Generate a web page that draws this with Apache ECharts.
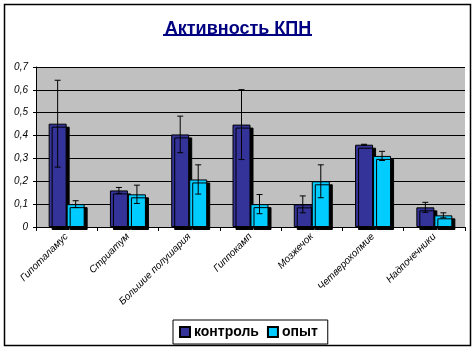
<!DOCTYPE html>
<html>
<head>
<meta charset="utf-8">
<script src="https://cdn.jsdelivr.net/npm/echarts@6/dist/echarts.min.js"></script>
<style>
	html, body { margin: 0; padding: 0; background: #fff; }
	#chart { width: 476px; height: 352px; }
</style>
</head>
<body>
<div id="chart"></div>
<script>
	var categories = ['Гипоталамус', 'Стриатум', 'Большие полушария', 'Гиппокамп', 'Мозжечок', 'Четверохолмие', 'Надпочечники'];
	var control = [0.452, 0.160, 0.405, 0.448, 0.099, 0.360, 0.086];
	var controlErr = [0.190, 0.013, 0.080, 0.153, 0.037, 0.002, 0.022];
	var opyt = [0.100, 0.143, 0.208, 0.100, 0.200, 0.311, 0.051];
	var opytErr = [0.015, 0.040, 0.064, 0.042, 0.072, 0.020, 0.011];
	var yTicks = [0, 0.1, 0.2, 0.3, 0.4, 0.5, 0.6, 0.7];

	var font = 'Arial, "Liberation Sans", sans-serif';

	//误差线数据 [类目, 上限, 下限]
	function errData(vals, errs) {
		var out = [];
		for(var i = 0; i < vals.length; i++) {
			out.push([i, vals[i] + errs[i], vals[i] - errs[i]]);
		}
		return out;
	}

	function errSeries(vals, errs, shift) {
		return {
			type: 'custom',
			z: 10,
			silent: true,
			data: errData(vals, errs),
			renderItem: function(params, api) {
				var hi = api.coord([api.value(0), api.value(1)]);
				var lo = api.coord([api.value(0), api.value(2)]);
				var x = hi[0] + shift;
				var cap = 3;
				var st = { stroke: '#000', lineWidth: 1 };
				return {
					type: 'group',
					children: [
						{ type: 'line', shape: { x1: x, y1: hi[1], x2: x, y2: lo[1] }, style: st },
						{ type: 'line', shape: { x1: x - cap, y1: hi[1], x2: x + cap, y2: hi[1] }, style: st },
						{ type: 'line', shape: { x1: x - cap, y1: lo[1], x2: x + cap, y2: lo[1] }, style: st }
					]
				};
			}
		};
	}

	var barStyle = function(color) {
		return {
			color: color,
			borderColor: '#000',
			borderWidth: 1,
			shadowColor: '#000',
			shadowOffsetX: 3,
			shadowOffsetY: 3,
			shadowBlur: 0
		};
	};

	var option = {
		animation: false,
		backgroundColor: '#fff',
		title: {
			text: 'Активность КПН',
			left: 'center',
			top: 15,
			textStyle: {
				fontFamily: font,
				fontSize: 18,
				fontWeight: 'bold',
				color: '#000080'
			}
		},
		graphic: [{
			type: 'rect',
			shape: { x: 4.5, y: 4.5, width: 466, height: 341 },
			style: { fill: 'none', stroke: '#000', lineWidth: 1.5 },
			silent: true
		}, {
			type: 'line',
			shape: { x1: 163, y1: 35, x2: 312, y2: 35 },
			style: { stroke: '#000080', lineWidth: 2 },
			silent: true
		}],
		legend: {
			data: ['контроль', 'опыт'],
			left: 173,
			top: 320,
			padding: [5, 10, 5, 6],
			itemGap: 8,
			itemWidth: 10,
			itemHeight: 10,
			borderColor: '#000',
			borderWidth: 1,
			icon: 'rect',
			textStyle: {
				fontFamily: font,
				fontSize: 14,
				fontWeight: 'bold',
				color: '#000',
				padding: [0, 0, 0, -1]
			}
		},
		grid: {
			left: 36,
			right: 11,
			top: 67,
			bottom: 125,
			show: true,
			backgroundColor: '#c0c0c0',
			borderWidth: 0
		},
		xAxis: {
			type: 'category',
			data: categories,
			axisLine: { lineStyle: { color: '#000', width: 1 } },
			axisTick: { show: true, length: 4, lineStyle: { color: '#000' } },
			axisLabel: {
				rotate: 45,
				interval: 0,
				margin: 8,
				fontFamily: font,
				fontStyle: 'italic',
				fontSize: 10,
				color: '#000'
			}
		},
		yAxis: {
			type: 'value',
			min: yTicks[0],
			max: yTicks[yTicks.length - 1],
			interval: 0.1,
			axisLine: { show: true, lineStyle: { color: '#000' } },
			axisTick: { show: true, length: 3, lineStyle: { color: '#000' } },
			splitLine: { show: true, lineStyle: { color: '#000', width: 1 } },
			axisLabel: {
				margin: 8,
				fontFamily: font,
				fontStyle: 'italic',
				fontSize: 10,
				color: '#000',
				formatter: function(v) {
					return String(Math.round(v * 10) / 10).replace('.', ',');
				}
			}
		},
		series: [{
			name: 'контроль',
			type: 'bar',
			data: control,
			barWidth: 18,
			barGap: '0%',
			itemStyle: barStyle('#333399')
		}, {
			name: 'опыт',
			type: 'bar',
			data: opyt,
			barWidth: 18,
			barGap: '0%',
			itemStyle: barStyle('#00ccff')
		},
		errSeries(control, controlErr, -9),
		errSeries(opyt, opytErr, 9)]
	};

	var chart = echarts.init(document.getElementById('chart'));
	chart.setOption(option);
</script>
</body>
</html>
